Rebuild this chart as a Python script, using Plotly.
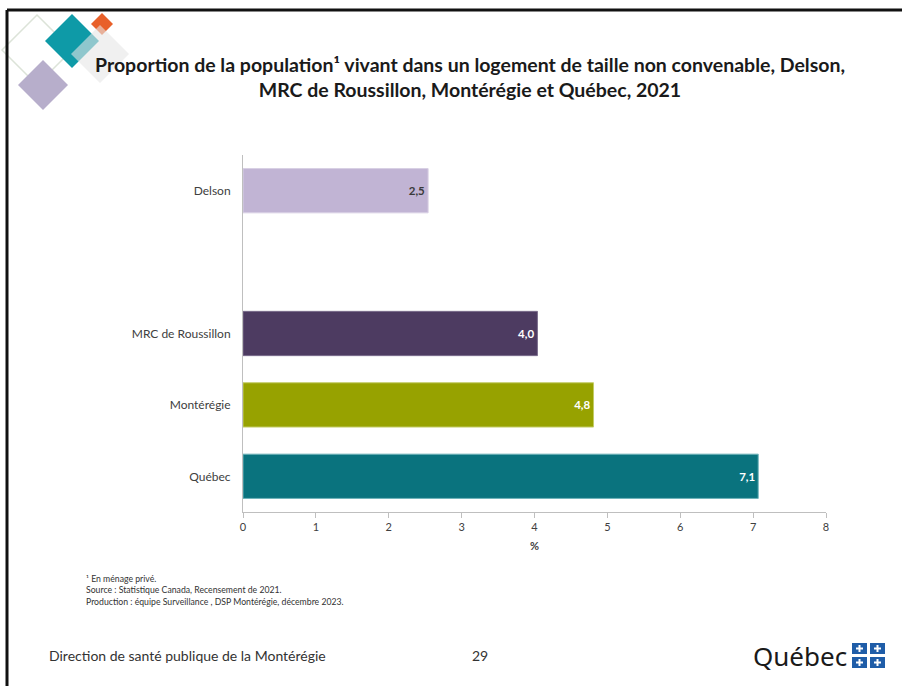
import plotly.graph_objects as go

categories = ["Delson", " ", "MRC de Roussillon", "Montérégie", "Québec"]
values = [2.54, None, 4.04, 4.81, 7.07]
bar_colors = ["#C1B4D4", "#C1B4D4", "#4D3B61", "#97A200", "#0A737E"]
edge_colors = ["#D8CFE4", "#D8CFE4", "#7A6C8C", "#C4CC66", "#6FB3BA"]
label_colors = ["#3A3A3A", "#3A3A3A", "#FFFFFF", "#FFFFFF", "#FFFFFF"]
x_ticks = [0, 1, 2, 3, 4, 5, 6, 7, 8]

labels = ["" if v is None else f"{v:.1f}".replace(".", ",") for v in values]

FONT = "Lato"

fig = go.Figure()
fig.add_trace(go.Bar(
    y=categories, x=values, orientation="h",
    marker=dict(color=bar_colors, line=dict(color=edge_colors, width=1)),
    width=0.62,
    text=labels, textposition="inside", insidetextanchor="end",
    textfont=dict(family=FONT, size=11.5, color=label_colors, weight="bold"),
    hoverinfo="skip", cliponaxis=False,
))

fig.update_layout(
    width=902, height=686,
    margin=dict(l=243, r=76, t=155, b=174),
    paper_bgcolor="white", plot_bgcolor="white",
    showlegend=False,
    font=dict(family=FONT, color="#404040"),
    xaxis=dict(
        range=[0, 8], tickvals=x_ticks, ticktext=[str(t) for t in x_ticks],
        showgrid=False, zeroline=False,
        showline=True, linecolor="#BFBFBF", linewidth=1,
        ticks="outside", ticklen=5, tickcolor="#BFBFBF",
        tickfont=dict(size=11, color="#404040"),
        title=dict(text="<b>%</b>", font=dict(size=11, color="#404040"), standoff=10),
    ),
    yaxis=dict(
        categoryorder="array", categoryarray=categories,
        autorange=False, range=[4.5, -0.5],
        showgrid=False, zeroline=False,
        showline=True, linecolor="#BFBFBF", linewidth=1,
        ticks="", ticklabelstandoff=9,
        tickfont=dict(size=12, color="#404040"),
    ),
)

def px_x(p):
    return (p - 243) / 583
def px_y(p):
    return 1 - (p - 155) / 357

# Title
fig.add_annotation(
    text="<b>Proportion de la population¹ vivant dans un logement de taille non convenable, Delson,<br>MRC de Roussillon, Montérégie et Québec, 2021</b>",
    xref="paper", yref="paper", x=px_x(470), y=px_y(77),
    xanchor="center", yanchor="middle", showarrow=False, align="center",
    font=dict(family=FONT, size=19.5, color="#1A1A1A"),
)

# Footnotes
fig.add_annotation(
    text="¹ En ménage privé.<br>Source : Statistique Canada, Recensement de 2021.<br>Production : équipe Surveillance , DSP Montérégie, décembre 2023.",
    xref="paper", yref="paper", x=px_x(84), y=px_y(571),
    xanchor="left", yanchor="top", showarrow=False, align="left",
    font=dict(family=FONT, size=8.7, color="#333333"),
)

# Footer
fig.add_annotation(
    text="Direction de santé publique de la Montérégie",
    xref="paper", yref="paper", x=px_x(47), y=px_y(655),
    xanchor="left", yanchor="middle", showarrow=False,
    font=dict(family=FONT, size=14, color="#333333"),
)
fig.add_annotation(
    text="29",
    xref="paper", yref="paper", x=px_x(480), y=px_y(655),
    xanchor="center", yanchor="middle", showarrow=False,
    font=dict(family=FONT, size=14, color="#333333"),
)
fig.add_annotation(
    text="Québec",
    xref="paper", yref="paper", x=px_x(849), y=px_y(656),
    xanchor="right", yanchor="middle", showarrow=False,
    font=dict(family="Noto Sans", size=26, color="#1A1A1A"),
)

shapes = []

# Quebec flag squares
for (x0, y0) in [(852, 643), (870, 643), (852, 657), (870, 657)]:
    shapes.append(dict(type="rect", xref="paper", yref="paper",
                       x0=px_x(x0), x1=px_x(x0 + 15), y0=px_y(y0), y1=px_y(y0 + 11),
                       fillcolor="#1F5DA8", line=dict(width=0), layer="above"))
    cx, cy = x0 + 7.5, y0 + 5.5
    shapes.append(dict(type="rect", xref="paper", yref="paper",
                       x0=px_x(cx - 1), x1=px_x(cx + 1), y0=px_y(cy - 3.5), y1=px_y(cy + 3.5),
                       fillcolor="white", line=dict(width=0), layer="above"))
    shapes.append(dict(type="rect", xref="paper", yref="paper",
                       x0=px_x(cx - 3.5), x1=px_x(cx + 3.5), y0=px_y(cy - 1), y1=px_y(cy + 1),
                       fillcolor="white", line=dict(width=0), layer="above"))

# Decorative diamonds (top-left)
def diamond(cx, cy, h, fill, line_color=None, opacity=1.0, lw=0):
    path = (f"M {px_x(cx)} {px_y(cy - h)} L {px_x(cx + h)} {px_y(cy)} "
            f"L {px_x(cx)} {px_y(cy + h)} L {px_x(cx - h)} {px_y(cy)} Z")
    return dict(type="path", xref="paper", yref="paper", path=path,
                fillcolor=fill, opacity=opacity,
                line=dict(color=line_color or "rgba(0,0,0,0)", width=lw), layer="above")

shapes.append(diamond(37, 50, 35, "rgba(0,0,0,0)", "#DCE3D8", 1.0, 1.5))
shapes.append(diamond(43, 85, 25, "#B7AECB"))
shapes.append(diamond(72, 41, 27, "#0E9AA7"))
shapes.append(diamond(102, 24, 11, "#E8602A"))
shapes.append(diamond(100, 54, 29, "#E6E6E6", None, 0.6))

# Slide border (top and left)
shapes.append(dict(type="line", xref="paper", yref="paper",
                   x0=px_x(7), x1=px_x(902), y0=px_y(10), y1=px_y(10),
                   line=dict(color="#111111", width=3), layer="above"))
shapes.append(dict(type="line", xref="paper", yref="paper",
                   x0=px_x(7), x1=px_x(7), y0=px_y(10), y1=px_y(686),
                   line=dict(color="#111111", width=3), layer="above"))

fig.update_layout(shapes=shapes)

fig.write_html(
    "out.html",
    config={"displayModeBar": False},
    post_script="document.body.style.margin='0';document.body.style.padding='0';document.body.style.overflow='hidden';",
)
